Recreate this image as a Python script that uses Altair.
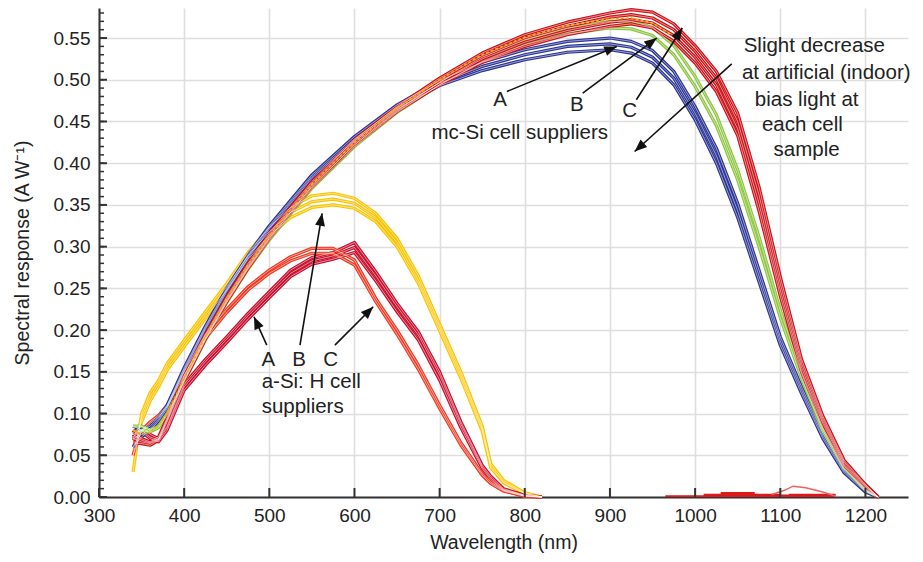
import math
import altair as alt
import pandas as pd

FONT = "Liberation Sans"
W, H = 809, 489
XDOM = [300, 1250]
YDOM = [0, 0.586]

# ---------------- data ----------------
x_ticks = [300, 400, 500, 600, 700, 800, 900, 1000, 1100, 1200]
y_ticks = [0.0, 0.05, 0.10, 0.15, 0.20, 0.25, 0.30, 0.35, 0.40, 0.45, 0.50, 0.55]
y_minor = [round(i * 0.01, 2) for i in range(0, 59)]

# mc-Si cells
mc_wl = [340, 350, 360, 370, 380, 400, 425, 450, 475, 500, 550, 600, 650, 700, 750, 800,
         850, 900, 925, 950, 975, 1000, 1025, 1050, 1075, 1100, 1125, 1150, 1175, 1200, 1215]
mc_blue_1 = [0.085, 0.080, 0.085, 0.095, 0.110, 0.155, 0.205, 0.250, 0.290, 0.325, 0.386, 0.432, 0.470, 0.499, 0.521, 0.536,
             0.546, 0.550, 0.546, 0.535, 0.510, 0.468, 0.418, 0.352, 0.272, 0.192, 0.132, 0.076, 0.033, 0.008, 0.000]
mc_blue_2 = [0.070, 0.075, 0.082, 0.093, 0.108, 0.153, 0.203, 0.248, 0.288, 0.323, 0.384, 0.429, 0.467, 0.496, 0.516, 0.530,
             0.540, 0.543, 0.539, 0.527, 0.502, 0.460, 0.409, 0.343, 0.265, 0.187, 0.128, 0.073, 0.031, 0.007, 0.000]
mc_blue_3 = [0.060, 0.072, 0.080, 0.091, 0.106, 0.151, 0.201, 0.246, 0.286, 0.321, 0.382, 0.427, 0.465, 0.493, 0.511, 0.524,
             0.533, 0.536, 0.532, 0.520, 0.494, 0.452, 0.400, 0.335, 0.258, 0.182, 0.124, 0.070, 0.029, 0.006, 0.000]
mc_green_1 = [0.085, 0.085, 0.080, 0.085, 0.100, 0.140, 0.190, 0.235, 0.275, 0.310, 0.372, 0.422, 0.463, 0.497, 0.527, 0.548,
              0.562, 0.570, 0.570, 0.563, 0.541, 0.504, 0.458, 0.392, 0.312, 0.224, 0.148, 0.083, 0.037, 0.010, 0.000]
mc_green_2 = [0.075, 0.080, 0.078, 0.083, 0.098, 0.138, 0.188, 0.233, 0.273, 0.308, 0.370, 0.420, 0.461, 0.494, 0.522, 0.542,
              0.555, 0.562, 0.561, 0.553, 0.530, 0.492, 0.445, 0.380, 0.300, 0.215, 0.142, 0.080, 0.035, 0.009, 0.000]
mc_red_1 = [0.080, 0.070, 0.066, 0.072, 0.095, 0.145, 0.195, 0.240, 0.280, 0.316, 0.378, 0.428, 0.468, 0.502, 0.532, 0.554,
            0.569, 0.580, 0.584, 0.581, 0.567, 0.541, 0.510, 0.460, 0.372, 0.264, 0.165, 0.097, 0.044, 0.015, 0.000]
mc_red_2 = [0.075, 0.068, 0.065, 0.070, 0.093, 0.143, 0.193, 0.238, 0.278, 0.314, 0.376, 0.426, 0.466, 0.500, 0.529, 0.550,
            0.564, 0.575, 0.578, 0.574, 0.560, 0.534, 0.502, 0.450, 0.362, 0.256, 0.160, 0.094, 0.042, 0.014, 0.000]
mc_red_3 = [0.070, 0.066, 0.064, 0.069, 0.092, 0.141, 0.191, 0.236, 0.276, 0.312, 0.374, 0.424, 0.464, 0.497, 0.525, 0.545,
            0.559, 0.569, 0.572, 0.568, 0.553, 0.527, 0.494, 0.441, 0.352, 0.248, 0.155, 0.091, 0.040, 0.013, 0.000]
mc_red_4 = [0.065, 0.064, 0.062, 0.068, 0.090, 0.139, 0.189, 0.234, 0.274, 0.310, 0.372, 0.422, 0.462, 0.494, 0.521, 0.540,
            0.554, 0.564, 0.567, 0.562, 0.546, 0.520, 0.486, 0.433, 0.343, 0.241, 0.150, 0.088, 0.038, 0.012, 0.000]
mc_yellow_wl = [340, 350, 360, 370, 380, 400, 425, 450, 475, 500, 550, 600, 650, 700, 750, 800, 850, 900, 925, 950, 975]
mc_yellow = [0.080, 0.075, 0.078, 0.086, 0.100, 0.142, 0.192, 0.238, 0.278, 0.313, 0.375, 0.425, 0.466, 0.500, 0.530, 0.551,
             0.565, 0.573, 0.574, 0.568, 0.552]

# a-Si:H cells
as_wl = [340, 350, 360, 370, 380, 400, 425, 450, 475, 500, 525, 550, 575, 600, 625, 650, 675, 700, 725, 750, 760, 775, 800, 820]
as_yellow_1 = [0.030, 0.100, 0.125, 0.140, 0.160, 0.188, 0.222, 0.256, 0.293, 0.323, 0.347, 0.361, 0.364, 0.358, 0.340, 0.310,
               0.265, 0.207, 0.150, 0.085, 0.040, 0.020, 0.005, 0.000]
as_yellow_2 = [0.050, 0.095, 0.120, 0.136, 0.156, 0.184, 0.218, 0.252, 0.289, 0.318, 0.341, 0.354, 0.357, 0.352, 0.335, 0.305,
               0.260, 0.203, 0.146, 0.082, 0.037, 0.018, 0.004, 0.000]
as_yellow_3 = [0.070, 0.090, 0.115, 0.132, 0.152, 0.180, 0.214, 0.248, 0.285, 0.313, 0.335, 0.347, 0.350, 0.346, 0.330, 0.300,
               0.256, 0.199, 0.142, 0.079, 0.035, 0.017, 0.004, 0.000]
as_orange_1 = [0.050, 0.080, 0.090, 0.098, 0.110, 0.150, 0.195, 0.225, 0.252, 0.272, 0.288, 0.298, 0.298, 0.284, 0.238, 0.200,
               0.158, 0.110, 0.065, 0.028, 0.018, 0.008, 0.001, 0.000]
as_orange_2 = [0.060, 0.078, 0.088, 0.096, 0.108, 0.146, 0.190, 0.221, 0.248, 0.268, 0.283, 0.292, 0.292, 0.278, 0.234, 0.195,
               0.153, 0.106, 0.062, 0.026, 0.016, 0.007, 0.001, 0.000]
as_crimson_1 = [0.077, 0.085, 0.075, 0.070, 0.085, 0.135, 0.165, 0.192, 0.220, 0.246, 0.272, 0.287, 0.293, 0.305, 0.270, 0.232,
                0.198, 0.150, 0.090, 0.038, 0.025, 0.010, 0.002, 0.000]
as_crimson_2 = [0.072, 0.080, 0.072, 0.068, 0.083, 0.132, 0.162, 0.189, 0.217, 0.243, 0.268, 0.283, 0.289, 0.299, 0.265, 0.228,
                0.194, 0.146, 0.087, 0.036, 0.023, 0.009, 0.002, 0.000]
as_crimson_3 = [0.068, 0.078, 0.070, 0.066, 0.080, 0.128, 0.158, 0.185, 0.213, 0.239, 0.264, 0.279, 0.285, 0.293, 0.259, 0.222,
                0.188, 0.140, 0.083, 0.034, 0.021, 0.008, 0.001, 0.000]

# small near-zero residual signal (red) at long wavelengths
noise_wl = [965, 1000, 1010, 1030, 1060, 1070, 1100, 1110, 1165]
noise_y = [0.002, 0.002, 0.004, 0.006, 0.006, 0.004, 0.003, 0.004, 0.002]
bump_wl = [1090, 1105, 1115, 1130, 1150, 1165]
bump_y = [0.003, 0.008, 0.013, 0.011, 0.006, 0.001]

# annotations (data units)
arrow_x0 = [779, 868, 931, 1043, 497, 536, 577]
arrow_y0 = [0.486, 0.484, 0.476, 0.519, 0.182, 0.182, 0.182]
arrow_x1 = [908, 955, 985, 929, 482, 562, 622]
arrow_y1 = [0.540, 0.550, 0.562, 0.414, 0.216, 0.340, 0.228]

ctext = ["A", "B", "C", "mc-Si cell suppliers", "Slight decrease", "at artificial (indoor)",
         "bias light at", "each cell", "sample", "A", "B", "C"]
ctext_x = [771, 861, 923, 794, 1140, 1154, 1131, 1126, 1131, 499, 535, 572]
ctext_y = [0.476, 0.470, 0.462, 0.436, 0.540, 0.508, 0.476, 0.446, 0.416, 0.164, 0.164, 0.164]
ltext = ["a-Si: H cell", "suppliers"]
ltext_x = [491, 491]
ltext_y = [0.138, 0.108]

# ---------------- build tables ----------------
series = [
    ("as_y1", as_wl, as_yellow_1, "#f9c400"), ("as_y2", as_wl, as_yellow_2, "#f9c400"), ("as_y3", as_wl, as_yellow_3, "#f9c400"),
    ("as_c1", as_wl, as_crimson_1, "#c8102e"), ("as_c2", as_wl, as_crimson_2, "#c8102e"), ("as_c3", as_wl, as_crimson_3, "#c8102e"),
    ("as_o1", as_wl, as_orange_1, "#ee3a24"), ("as_o2", as_wl, as_orange_2, "#ee3a24"),
    ("mc_b1", mc_wl, mc_blue_1, "#2b3595"), ("mc_b2", mc_wl, mc_blue_2, "#2b3595"), ("mc_b3", mc_wl, mc_blue_3, "#2b3595"),
    ("mc_g1", mc_wl, mc_green_1, "#8cc63f"), ("mc_g2", mc_wl, mc_green_2, "#8cc63f"),
    ("mc_r4", mc_wl, mc_red_4, "#cc1218"), ("mc_r3", mc_wl, mc_red_3, "#cc1218"),
    ("mc_r2", mc_wl, mc_red_2, "#cc1218"), ("mc_r1", mc_wl, mc_red_1, "#cc1218"),
]
rows = []
for k, (name, wl, ys, col) in enumerate(series):
    for w, v in zip(wl, ys):
        rows.append({"series": name, "k": k, "wl": w, "resp": v})
df = pd.DataFrame(rows)
names = [s[0] for s in series]
colors = [s[3] for s in series]

dash_df = pd.DataFrame({"wl": mc_yellow_wl, "resp": mc_yellow})
noise_df = pd.DataFrame({"wl": noise_wl, "resp": noise_y})
bump_df = pd.DataFrame({"wl": bump_wl, "resp": bump_y})

sx = W / (XDOM[1] - XDOM[0])
sy = H / (YDOM[1] - YDOM[0])
angles = []
for a, b, c, d in zip(arrow_x0, arrow_y0, arrow_x1, arrow_y1):
    dx = (c - a) * sx
    dy = -(d - b) * sy
    angles.append(math.degrees(math.atan2(dx, -dy)) % 360)
arr_df = pd.DataFrame({"x0": arrow_x0, "y0": arrow_y0, "x1": arrow_x1, "y1": arrow_y1, "ang": angles})
ct_df = pd.DataFrame({"t": ctext, "x": ctext_x, "y": ctext_y})
lt_df = pd.DataFrame({"t": ltext, "x": ltext_x, "y": ltext_y})
xt_df = pd.DataFrame({"x": x_ticks})
ymaj_df = pd.DataFrame({"y": y_ticks})
ymin_df = pd.DataFrame({"y": y_minor})

# ---------------- axes / encodings ----------------
xaxis = alt.Axis(values=x_ticks, format="d", title="Wavelength (nm)", grid=True, gridColor="#dedede",
                 gridWidth=1.6, ticks=False, domainColor="#333333", domainWidth=2, labelFlush=False,
                 labelFont=FONT, labelFontSize=19, labelColor="#222222", labelPadding=9,
                 titleFont=FONT, titleFontSize=19.5, titleFontWeight="normal", titleColor="#222222",
                 titlePadding=8)
yaxis = alt.Axis(values=y_ticks, format=".2f", title="Spectral response (A W\u207b\u00b9)", grid=True,
                 gridColor="#dedede", gridWidth=1.6, ticks=False, domainColor="#333333", domainWidth=2,
                 labelFlush=False,
                 labelFont=FONT, labelFontSize=19, labelColor="#222222", labelPadding=9,
                 titleFont=FONT, titleFontSize=19.5, titleFontWeight="normal", titleColor="#222222",
                 titlePadding=21)
xs = alt.Scale(domain=XDOM, nice=False, zero=False)
ys_ = alt.Scale(domain=YDOM, nice=False, zero=True)


def X(f):
    return alt.X(f"{f}:Q", scale=xs, axis=xaxis)


def Y(f):
    return alt.Y(f"{f}:Q", scale=ys_, axis=yaxis)


# ---------------- layers ----------------
xtick = alt.Chart(xt_df).mark_rule(color="#333333", strokeWidth=2).encode(
    x=X("x"), y=alt.value(H), y2=alt.value(H - 9))
ymaj = alt.Chart(ymaj_df).mark_rule(color="#333333", strokeWidth=2).encode(
    y=Y("y"), x=alt.value(0), x2=alt.value(8))
ymin = alt.Chart(ymin_df).mark_rule(color="#333333", strokeWidth=1.5).encode(
    y=Y("y"), x=alt.value(0), x2=alt.value(5))

noise = alt.Chart(noise_df).mark_area(color="#dd1a1a", interpolate="step-after").encode(x=X("wl"), y=Y("resp"))
bump = alt.Chart(bump_df).mark_line(color="#f06060", strokeWidth=1.5).encode(x=X("wl"), y=Y("resp"))

lines_base = alt.Chart(df).encode(x=X("wl"), y=Y("resp"), detail="series:N", order="wl:Q")
lines_col = lines_base.mark_line(strokeWidth=3.2, strokeJoin="round").encode(
    color=alt.Color("series:N", scale=alt.Scale(domain=names, range=colors), legend=None))
lines_white = lines_base.mark_line(strokeWidth=0.8, color="white", opacity=0.65)
dash = alt.Chart(dash_df).mark_line(color="#f2b100", strokeWidth=1.6, strokeDash=[3, 2]).encode(
    x=X("wl"), y=Y("resp"))

shaft = alt.Chart(arr_df).mark_rule(color="#111111", strokeWidth=1.6).encode(
    x=X("x0"), y=Y("y0"), x2="x1:Q", y2="y1:Q")
head = alt.Chart(arr_df).mark_point(shape="M0,0L-0.4,1L0.4,1Z", filled=True, color="#111111",
                                    opacity=1, size=620).encode(
    x=X("x1"), y=Y("y1"), angle=alt.Angle("ang:Q", scale=None))

ctxt = alt.Chart(ct_df).mark_text(font=FONT, fontSize=20.5, color="#222222", align="center",
                                  baseline="middle").encode(x=X("x"), y=Y("y"), text="t:N")
ltxt = alt.Chart(lt_df).mark_text(font=FONT, fontSize=20.5, color="#222222", align="left",
                                  baseline="middle").encode(x=X("x"), y=Y("y"), text="t:N")

chart = alt.layer(
    noise, bump, lines_col, lines_white, dash, shaft, head, ctxt, ltxt, xtick, ymaj, ymin
).properties(
    width=W, height=H,
    autosize=alt.AutoSizeParams(type="none"),
    padding={"left": 91, "top": 0, "right": 7, "bottom": 57},
    background="white",
).configure_view(stroke=None)

chart.save("out.html", embed_options={"renderer": "svg", "actions": False})
